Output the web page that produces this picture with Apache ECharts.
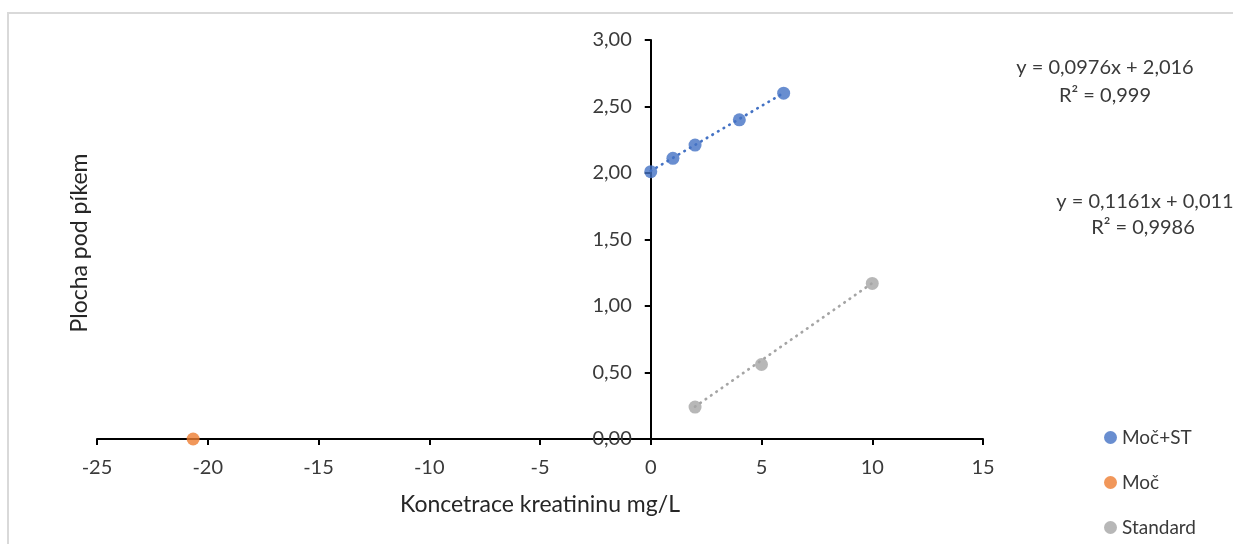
<!DOCTYPE html>
<html>
<head>
<meta charset="utf-8">
<script src="https://cdn.jsdelivr.net/npm/echarts@6/dist/echarts.min.js"></script>
<style>
  html, body { margin: 0; padding: 0; background: #fff; }
  #chart { width: 1233px; height: 544px; }
</style>
</head>
<body>
<div id="chart"></div>
<script>
// Concentration of creatinine (mg/L) vs. peak area
const mocStX = [0, 1, 2, 4, 6];
const mocStY = [2.01, 2.11, 2.21, 2.40, 2.60];
const mocX = [-20.66];
const mocY = [0];
const standardX = [2, 5, 10];
const standardY = [0.24, 0.56, 1.17];

// Linear trend lines (slope, intercept, R²) and the x range they span
const mocStFit = { slope: 0.0976, intercept: 2.016, r2: '0,999', from: 0, to: 6 };
const standardFit = { slope: 0.1161, intercept: 0.011, r2: '0,9986', from: 2, to: 10 };

const xTicks = { min: -25, max: 15, step: 5 };
const yTicks = { min: 0, max: 3, step: 0.5 };

const seriesNames = ['Moč+ST', 'Moč', 'Standard'];
const colors = ['#4472C4', '#ED7D31', '#A5A5A5'];

const FONT = 'Lato';
const W = 1233;
const GRID = { left: 97, right: 250, top: 40, bottom: 105 };

function pairs(xs, ys) { return xs.map((x, i) => [x, ys[i]]); }
function fitLine(f) {
  return [[f.from, f.slope * f.from + f.intercept], [f.to, f.slope * f.to + f.intercept]];
}
function num(v) { return String(v).replace('.', ','); }
function equation(f) { return 'y = ' + num(f.slope) + 'x + ' + num(f.intercept); }

// the vertical axis crosses the horizontal one at x = 0
const plotWidth = W - GRID.left - GRID.right;
const yAxisShift = plotWidth * (0 - xTicks.min) / (xTicks.max - xTicks.min);

const chart = echarts.init(document.getElementById('chart'), null, { renderer: 'canvas' });

const dotted = (color) => ({
  type: 'line',
  showSymbol: false,
  symbol: 'none',
  silent: true,
  z: 1,
  lineStyle: { color: color, width: 2.7, type: [0.5, 6], cap: 'round' }
});

chart.setOption({
  animation: false,
  backgroundColor: '#fff',
  grid: GRID,
  xAxis: {
    type: 'value',
    min: xTicks.min, max: xTicks.max, interval: xTicks.step,
    splitLine: { show: false },
    axisLine: { onZero: false, lineStyle: { color: '#000', width: 2 } },
    axisTick: { show: true, inside: false, length: 6, lineStyle: { color: '#000', width: 2 } },
    axisLabel: { color: '#3a3a3a', fontFamily: FONT, fontSize: 20, margin: 19 },
    name: 'Koncetrace kreatininu mg/L',
    nameLocation: 'middle',
    nameGap: 54,
    nameTextStyle: { color: '#262626', fontFamily: FONT, fontSize: 23 }
  },
  yAxis: {
    type: 'value',
    position: 'left',
    offset: -yAxisShift,
    min: yTicks.min, max: yTicks.max, interval: yTicks.step,
    splitLine: { show: false },
    axisLine: { onZero: false, lineStyle: { color: '#000', width: 2 } },
    axisTick: { show: true, inside: false, length: 6, lineStyle: { color: '#000', width: 2 } },
    axisLabel: {
      color: '#3a3a3a', fontFamily: FONT, fontSize: 20, margin: 19,
      formatter: (v) => v.toFixed(2).replace('.', ',')
    }
  },
  legend: {
    orient: 'vertical',
    left: 1104, top: 428,
    padding: 0,
    itemGap: 26,
    itemWidth: 13, itemHeight: 13,
    icon: 'circle',
    data: seriesNames,
    textStyle: { color: '#3a3a3a', fontFamily: FONT, fontSize: 19 }
  },
  series: [
    Object.assign(dotted(colors[0]), { data: fitLine(mocStFit) }),
    Object.assign(dotted(colors[2]), { data: fitLine(standardFit) }),
    {
      name: seriesNames[0], type: 'scatter', symbolSize: 13, z: 3,
      itemStyle: { color: colors[0] }, data: pairs(mocStX, mocStY)
    },
    {
      name: seriesNames[1], type: 'scatter', symbolSize: 13, z: 3,
      itemStyle: { color: colors[1] }, data: pairs(mocX, mocY)
    },
    {
      name: seriesNames[2], type: 'scatter', symbolSize: 13, z: 3,
      itemStyle: { color: colors[2] }, data: pairs(standardX, standardY)
    }
  ],
  graphic: [
    {
      type: 'rect', silent: true, z: -1,
      shape: { x: 8, y: 13, width: 1300, height: 700 },
      style: { fill: 'none', stroke: '#d9d9d9', lineWidth: 2 }
    },
    {
      type: 'text', x: 80, y: 243, rotation: Math.PI / 2,
      style: {
        text: 'Plocha pod píkem', fill: '#262626', font: '23px ' + FONT,
        textAlign: 'center', textVerticalAlign: 'middle'
      }
    },
    {
      type: 'text', x: 1105, y: 68,
      style: { text: equation(mocStFit), fill: '#3a3a3a', font: '20px ' + FONT, textAlign: 'center', textVerticalAlign: 'middle' }
    },
    {
      type: 'text', x: 1105, y: 96,
      style: { text: 'R² = ' + mocStFit.r2, fill: '#3a3a3a', font: '20px ' + FONT, textAlign: 'center', textVerticalAlign: 'middle' }
    },
    {
      type: 'text', x: 1145, y: 202,
      style: { text: equation(standardFit), fill: '#3a3a3a', font: '20px ' + FONT, textAlign: 'center', textVerticalAlign: 'middle' }
    },
    {
      type: 'text', x: 1143, y: 228,
      style: { text: 'R² = ' + standardFit.r2, fill: '#3a3a3a', font: '20px ' + FONT, textAlign: 'center', textVerticalAlign: 'middle' }
    }
  ]
});
</script>
</body>
</html>
